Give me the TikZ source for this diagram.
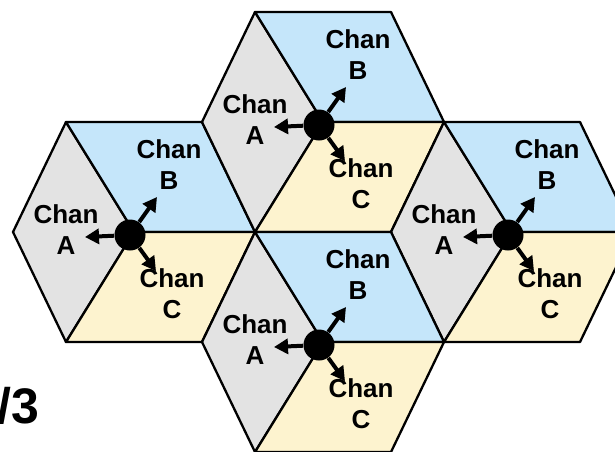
\documentclass[tikz,border=0pt]{standalone}
\usepackage{fontspec}
\setmainfont{Liberation Sans}
\usetikzlibrary{arrows.meta}
\definecolor{cgray}{RGB}{227,227,227}
\definecolor{cblue}{RGB}{197,230,250}
\definecolor{cyell}{RGB}{253,243,207}
\begin{document}
\begin{tikzpicture}[x=0.5pt,y=-0.5pt,
  edge/.style={draw=black,line width=1.15pt,line join=round},
  lbl/.style={font=\bfseries\fontsize{13}{15.5}\selectfont,align=center,inner sep=0pt},
  dotn/.style={circle,fill=black,minimum size=15.5pt,inner sep=0pt},
  arr/.style={line width=2pt,-{Triangle[length=7pt,width=7.5pt]}},
  cell/.pic={
    \coordinate (-L) at (-121,0);
    \coordinate (-TL) at (-68,-110);
    \coordinate (-TR) at (68,-110);
    \coordinate (-R) at (121,0);
    \coordinate (-BR) at (68,110);
    \coordinate (-BL) at (-68,110);
    \coordinate (-C) at (0,0);
    \filldraw[edge,fill=cgray] (-L) -- (-TL) -- (-C) -- (-BL) -- cycle;
    \filldraw[edge,fill=cblue] (-TL) -- (-TR) -- (-R) -- (-C) -- cycle;
    \filldraw[edge,fill=cyell] (-C) -- (-R) -- (-BR) -- (-BL) -- cycle;
    \node[dotn] (-dot) at (-4,3) {};
    \coordinate (-ta) at (-49,5);
    \coordinate (-tb) at (23,-35);
    \coordinate (-tc) at (22,39);
    \draw[arr] (-dot) -- (-ta);
    \draw[arr] (-dot) -- (-tb);
    \draw[arr] (-dot) -- (-tc);
    \node[lbl] (-a) at (-68,-2) {Chan\\A};
    \node[lbl] (-b) at (35,-67) {Chan\\B};
    \node[lbl] (-c) at (38,62) {Chan\\C};
  }]
\useasboundingbox (0,0) rectangle (615,451);
\clip (0,0) rectangle (615,451);
\pic (h1) at (134,232) {cell};
\pic (h2) at (323,122) {cell};
\pic (h3) at (512,232) {cell};
\pic (h4) at (323,342) {cell};
\node[font=\bfseries\fontsize{25}{30}\selectfont,anchor=base east,inner sep=0pt] (frac) at (40,423) {/3};
\end{tikzpicture}
\end{document}
